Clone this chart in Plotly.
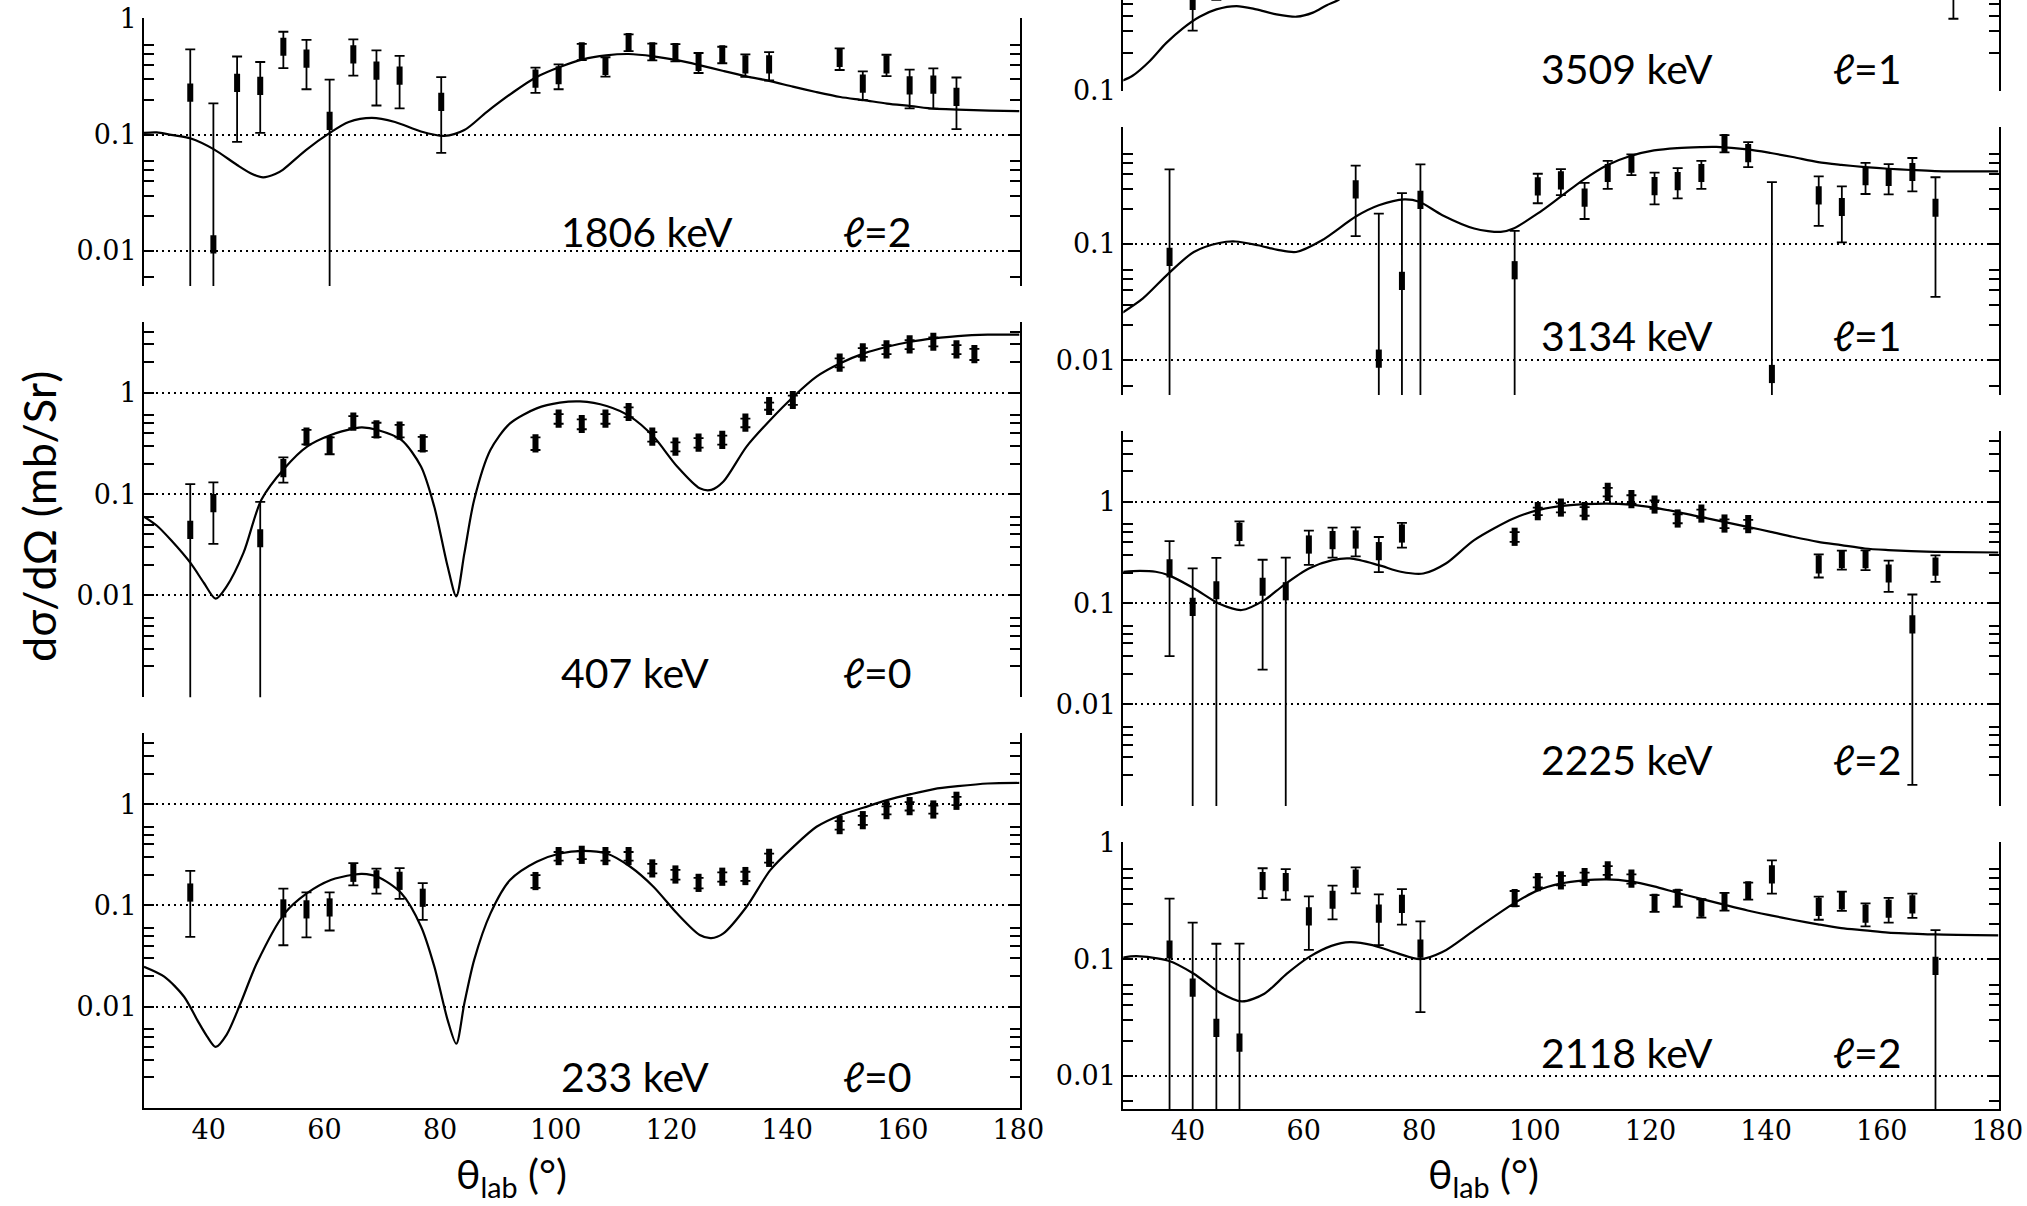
import plotly.graph_objects as go

# ---------------------------------------------------------------------------
# Angular distributions dσ/dΩ (mb/sr) vs θ_lab (deg): data with errors + DWBA curves
# ---------------------------------------------------------------------------

# 1806 keV, l=2
ang_1806 = [36.8, 40.8, 44.9, 48.9, 52.9, 56.9, 60.9, 65.0, 69.0, 73.0, 80.2, 96.5, 100.5, 104.5,
            108.6, 112.6, 116.7, 120.7, 124.7, 128.8, 132.8, 136.9, 149.1, 153.1, 157.2, 161.2,
            165.3, 169.3]
val_1806 = [0.231, 0.0114, 0.280, 0.264, 0.574, 0.453, 0.132, 0.494, 0.357, 0.324, 0.192, 0.305,
            0.326, 0.524, 0.392, 0.630, 0.524, 0.517, 0.424, 0.494, 0.405, 0.405, 0.459, 0.276,
            0.405, 0.267, 0.271, 0.212]
err_1806 = [0.314, 0.175, 0.193, 0.160, 0.199, 0.206, 0.167, 0.170, 0.178, 0.155, 0.122, 0.075,
            0.079, 0.084, 0.074, 0.104, 0.086, 0.088, 0.083, 0.080, 0.089, 0.111, 0.097, 0.076,
            0.085, 0.098, 0.103, 0.100]
fit_ang_1806 = [28.8, 31.0, 33.5, 36.9, 40.9, 44.9, 47.5, 49.4, 51.5, 52.8, 56.8, 60.8, 64.2, 68.2,
                72.2, 76.7, 80.7, 84.2, 88.1, 92.7, 96.7, 100.7, 104.7, 108.7, 112.6, 116.9, 121.0,
                125.0, 129.0, 133.0, 137.1, 141.0, 145.0, 149.2, 153.3, 157.3, 161.4, 165.4, 169.5,
                175.0, 180.2]
fit_val_1806 = [0.104, 0.105, 0.100, 0.093, 0.075, 0.055, 0.046, 0.043, 0.046, 0.050, 0.074, 0.103,
                0.129, 0.140, 0.129, 0.107, 0.098, 0.110, 0.158, 0.234, 0.315, 0.384, 0.447, 0.484,
                0.497, 0.475, 0.440, 0.397, 0.355, 0.319, 0.290, 0.260, 0.234, 0.212, 0.199, 0.186,
                0.177, 0.168, 0.165, 0.162, 0.160]

# 407 keV, l=0
ang_407 = [36.8, 40.8, 48.9, 52.9, 56.9, 60.9, 65.0, 69.0, 73.0, 77.0, 96.5, 100.5, 104.5, 108.6,
           112.6, 116.7, 120.7, 124.7, 128.8, 132.8, 136.9, 141.0, 149.1, 153.1, 157.2, 161.2,
           165.3, 169.3, 172.4]
val_407 = [0.0444, 0.0813, 0.0367, 0.180, 0.369, 0.305, 0.518, 0.435, 0.422, 0.317, 0.317, 0.554,
           0.491, 0.554, 0.645, 0.369, 0.294, 0.322, 0.342, 0.506, 0.739, 0.847, 1.98, 2.50, 2.67,
           2.99, 3.18, 2.67, 2.40]
err_407 = [0.081, 0.049, 0.047, 0.050, 0.060, 0.058, 0.070, 0.070, 0.060, 0.050, 0.045, 0.060,
           0.055, 0.060, 0.070, 0.040, 0.030, 0.035, 0.035, 0.050, 0.060, 0.090, 0.20, 0.25, 0.27,
           0.30, 0.32, 0.27, 0.30]
fit_ang_407 = [28.8, 31.0, 33.5, 36.9, 39.2, 41.2, 43.1, 46.0, 49.1, 53.1, 57.0, 61.1, 65.2, 66.5,
               69.2, 73.3, 76.7, 79.0, 81.3, 82.8, 84.2, 85.9, 88.7, 92.1, 96.7, 100.7, 104.2,
               108.8, 112.9, 116.9, 121.0, 124.9, 126.9, 129.0, 133.0, 137.1, 141.1, 145.1, 149.2,
               153.3, 157.3, 161.4, 165.4, 169.5, 174.7, 180.2]
fit_val_407 = [0.060, 0.049, 0.035, 0.0207, 0.0132, 0.0093, 0.0123, 0.0263, 0.088, 0.18, 0.294,
               0.383, 0.445, 0.455, 0.429, 0.342, 0.187, 0.075, 0.0194, 0.0098, 0.026, 0.088, 0.272,
               0.498, 0.70, 0.797, 0.82, 0.739, 0.58, 0.369, 0.187, 0.114, 0.110, 0.133, 0.294,
               0.538, 0.913, 1.44, 1.95, 2.44, 2.84, 3.18, 3.43, 3.62, 3.73, 3.73]

# 233 keV, l=0
ang_233 = [36.8, 52.9, 56.9, 60.9, 65.0, 69.0, 73.0, 77.0, 96.5, 100.5, 104.5, 108.6, 112.6, 116.7,
           120.7, 124.7, 128.8, 132.8, 136.9, 149.1, 153.1, 157.2, 161.2, 165.3, 169.3]
val_233 = [0.134, 0.0934, 0.0914, 0.0955, 0.210, 0.181, 0.175, 0.119, 0.174, 0.307, 0.316, 0.307,
           0.307, 0.232, 0.202, 0.167, 0.192, 0.195, 0.295, 0.621, 0.695, 0.873, 0.956, 0.886, 1.08]
err_233 = [0.085, 0.053, 0.043, 0.039, 0.052, 0.050, 0.059, 0.047, 0.025, 0.030, 0.030, 0.030,
           0.030, 0.025, 0.022, 0.020, 0.020, 0.020, 0.030, 0.060, 0.070, 0.080, 0.090, 0.080, 0.100]
fit_ang_233 = [28.8, 32.3, 35.7, 38.0, 39.7, 41.2, 43.1, 45.5, 48.3, 53.1, 57.0, 61.1, 65.2, 66.5,
               69.2, 73.3, 76.7, 79.0, 81.3, 82.8, 84.2, 85.9, 88.7, 92.1, 96.7, 100.7, 104.7,
               108.8, 112.9, 116.9, 121.0, 124.9, 126.9, 129.0, 133.0, 137.1, 141.1, 145.1, 149.2,
               153.3, 157.3, 161.4, 165.4, 169.5, 174.7, 180.2]
fit_val_233 = [0.0248, 0.0198, 0.0126, 0.0074, 0.0051, 0.0040, 0.0053, 0.0108, 0.0268, 0.083, 0.132,
               0.178, 0.202, 0.205, 0.192, 0.132, 0.062, 0.025, 0.0074, 0.0043, 0.0108, 0.029, 0.083,
               0.178, 0.27, 0.326, 0.346, 0.326, 0.241, 0.153, 0.083, 0.051, 0.0475, 0.053, 0.097,
               0.223, 0.379, 0.598, 0.779, 0.927, 1.095, 1.255, 1.41, 1.505, 1.60, 1.62]

# 3509 keV, l=1
ang_3509 = [40.8, 44.9, 172.4]
val_3509 = [0.531, 0.75, 0.70]
err_3509 = [0.226, 0.21, 0.32]
fit_ang_3509 = [28.7, 30.4, 33.3, 36.2, 39.1, 42.0, 44.9, 48.4, 51.8, 55.3, 58.8, 61.6, 64.0, 66.0,
                70.0, 75.0]
fit_val_3509 = [0.120, 0.131, 0.171, 0.241, 0.318, 0.395, 0.453, 0.482, 0.453, 0.413, 0.395, 0.426,
                0.49, 0.54, 0.75, 1.0]

# 3134 keV, l=1
ang_3134 = [36.8, 69.0, 73.0, 77.0, 80.2, 96.5, 100.5, 104.5, 108.6, 112.6, 116.7, 120.7, 124.7,
            128.8, 132.8, 136.9, 141.0, 149.1, 153.1, 157.2, 161.2, 165.3, 169.3]
val_3134 = [0.0773, 0.295, 0.0103, 0.0481, 0.240, 0.0594, 0.313, 0.352, 0.250, 0.408, 0.491, 0.315,
            0.348, 0.408, 0.738, 0.606, 0.0076, 0.262, 0.208, 0.384, 0.377, 0.416, 0.205]
err_3134 = [0.361, 0.178, 0.172, 0.226, 0.244, 0.070, 0.089, 0.089, 0.086, 0.110, 0.100, 0.096,
            0.101, 0.110, 0.125, 0.147, 0.333, 0.119, 0.105, 0.115, 0.110, 0.133, 0.170]
fit_ang_3134 = [28.7, 32.2, 36.6, 41.0, 45.4, 48.2, 52.1, 55.5, 58.7, 63.1, 69.1, 73.0, 77.4, 80.0,
                84.0, 89.5, 94.1, 96.3, 100.5, 104.4, 108.5, 112.4, 116.5, 120.6, 124.6, 128.6,
                131.4, 136.8, 140.8, 144.6, 149.0, 153.0, 157.1, 161.1, 165.1, 169.2, 180.2]
fit_val_3134 = [0.0257, 0.034, 0.0556, 0.0853, 0.102, 0.105, 0.0975, 0.089, 0.0853, 0.107, 0.173,
                0.215, 0.242, 0.231, 0.177, 0.136, 0.127, 0.136, 0.183, 0.254, 0.36, 0.474, 0.571,
                0.638, 0.669, 0.682, 0.684, 0.651, 0.606, 0.56, 0.507, 0.48, 0.459, 0.444, 0.433,
                0.424, 0.421]

# 2225 keV, l=2
ang_2225 = [36.8, 40.8, 44.9, 48.9, 52.9, 56.9, 60.9, 65.0, 69.0, 73.0, 77.0, 96.5, 100.5, 104.5,
            108.6, 112.6, 116.7, 120.7, 124.7, 128.8, 132.8, 136.9, 149.1, 153.1, 157.2, 161.2,
            165.3, 169.3]
val_2225 = [0.220, 0.092, 0.134, 0.506, 0.145, 0.131, 0.379, 0.419, 0.425, 0.326, 0.487, 0.452,
            0.809, 0.879, 0.809, 1.255, 1.062, 0.942, 0.685, 0.767, 0.611, 0.603, 0.241, 0.272,
            0.272, 0.196, 0.0616, 0.229]
err_2225 = [0.19, 0.128, 0.146, 0.135, 0.123, 0.151, 0.14, 0.138, 0.135, 0.124, 0.134, 0.05, 0.07,
            0.09, 0.08, 0.12, 0.10, 0.09, 0.07, 0.07, 0.06, 0.06, 0.062, 0.058, 0.06, 0.067, 0.060,
            0.067]
fit_ang_2225 = [28.7, 31.7, 34.4, 36.6, 41.0, 45.4, 49.3, 53.2, 56.5, 60.9, 65.0, 68.0, 73.0, 76.8,
                80.7, 84.6, 89.5, 96.3, 100.5, 104.4, 108.5, 112.4, 116.5, 120.6, 124.6, 128.6,
                132.7, 136.8, 140.8, 144.6, 149.0, 153.0, 157.1, 161.1, 165.1, 169.2, 180.2]
fit_val_2225 = [0.204, 0.208, 0.204, 0.189, 0.14, 0.0985, 0.0855, 0.107, 0.150, 0.220, 0.266, 0.276,
                0.237, 0.204, 0.196, 0.246, 0.419, 0.685, 0.828, 0.906, 0.948, 0.963, 0.941, 0.879,
                0.797, 0.711, 0.635, 0.567, 0.506, 0.452, 0.403, 0.374, 0.346, 0.334, 0.326, 0.321,
                0.316]

# 2118 keV, l=2
ang_2118 = [36.8, 40.8, 44.9, 48.9, 52.9, 56.9, 60.9, 65.0, 69.0, 73.0, 77.0, 80.2, 96.5, 100.5,
            104.5, 108.6, 112.6, 116.7, 120.7, 124.7, 128.8, 132.8, 136.9, 141.0, 149.1, 153.1,
            157.2, 161.2, 165.3, 169.3]
val_2118 = [0.121, 0.0569, 0.0257, 0.0192, 0.469, 0.459, 0.233, 0.324, 0.491, 0.246, 0.299, 0.123,
            0.335, 0.459, 0.475, 0.508, 0.579, 0.491, 0.305, 0.337, 0.277, 0.316, 0.390, 0.535,
            0.281, 0.320, 0.246, 0.271, 0.296, 0.0874]
err_2118 = [0.21, 0.149, 0.11, 0.117, 0.135, 0.135, 0.113, 0.104, 0.124, 0.114, 0.101, 0.088, 0.05,
            0.045, 0.045, 0.045, 0.05, 0.045, 0.05, 0.055, 0.05, 0.055, 0.065, 0.17, 0.063, 0.06,
            0.055, 0.065, 0.07, 0.09]
fit_ang_2118 = [28.7, 31.1, 36.6, 41.0, 45.4, 49.3, 53.2, 57.1, 60.9, 64.8, 68.0, 71.9, 76.3, 80.1,
                84.0, 89.5, 96.3, 100.5, 104.4, 108.5, 112.4, 116.5, 120.6, 124.6, 128.6, 132.7,
                136.8, 140.8, 144.6, 149.0, 153.0, 157.1, 161.1, 165.1, 169.2, 180.2]
fit_val_2118 = [0.103, 0.106, 0.097, 0.075, 0.052, 0.0433, 0.0505, 0.075, 0.104, 0.13, 0.14, 0.132,
                0.112, 0.1, 0.115, 0.177, 0.30, 0.39, 0.445, 0.475, 0.485, 0.466, 0.422, 0.372,
                0.331, 0.294, 0.262, 0.238, 0.218, 0.199, 0.185, 0.177, 0.169, 0.166, 0.163, 0.16]

# panel captions
energies = ["1806 keV", "407 keV", "233 keV", "3509 keV", "3134 keV", "2225 keV", "2118 keV"]
ell_values = ["2", "0", "0", "1", "1", "2", "2"]
x_ticks = [40, 60, 80, 100, 120, 140, 160, 180]
y_title = "dσ/dΩ (mb/Sr)"
x_title = "θ<sub>lab</sub> (°)"

# ---------------------------------------------------------------------------
# page geometry (pixels)
# ---------------------------------------------------------------------------
W, H = 2027, 1206
COLS = {"L": (144.0, 1019.5), "R": (1123.3, 1998.5)}
# caption anchor angles per column: (energy text, l text)
CAPTION_X = {"L": (100.5, 149.4), "R": (100.7, 151.3)}
X_RANGE = [28.8, 180.2]

# (column, top px, bottom px, log range, labelled decades, caption height in domain, bottom row)
layout_spec = [
    ("L", 18.3, 286.0, [-2.302, 0.004], [1, 0.1, 0.01], 0.205, False),
    ("L", 321.7, 697.3, [-3.004, 0.70], [1, 0.1, 0.01], 0.065, False),
    ("L", 733.3, 1108.3, [-3.004, 0.70], [1, 0.1, 0.01], 0.084, True),
    ("R", -0.5, 90.7, [-1.004, -0.268], [0.1], 0.247, False),
    ("R", 127.3, 395.0, [-2.30, 0.004], [0.1, 0.01], 0.224, False),
    ("R", 431.0, 806.0, [-3.004, 0.70], [1, 0.1, 0.01], 0.125, False),
    ("R", 842.3, 1109.3, [-2.29, 0.004], [1, 0.1, 0.01], 0.213, True),
]

series = [
    (ang_1806, val_1806, err_1806, fit_ang_1806, fit_val_1806),
    (ang_407, val_407, err_407, fit_ang_407, fit_val_407),
    (ang_233, val_233, err_233, fit_ang_233, fit_val_233),
    (ang_3509, val_3509, err_3509, fit_ang_3509, fit_val_3509),
    (ang_3134, val_3134, err_3134, fit_ang_3134, fit_val_3134),
    (ang_2225, val_2225, err_2225, fit_ang_2225, fit_val_2225),
    (ang_2118, val_2118, err_2118, fit_ang_2118, fit_val_2118),
]

SERIF = "DejaVu Serif"
SANS = "Lato"


def label_text(v):
    return "1" if v == 1 else ("0.1" if v == 0.1 else ("0.01" if v == 0.01 else str(v)))


def minor_vals(lo, hi):
    # inner ticks at 2..6 within each decade
    vals = []
    for e in range(-4, 2):
        for m in (2, 3, 4, 5, 6):
            v = m * 10.0 ** e
            if 10 ** lo <= v <= 10 ** hi:
                vals.append(v)
    return vals


fig = go.Figure()
layout = dict(
    width=W, height=H, margin=dict(l=0, r=0, t=0, b=0, pad=0), autosize=False,
    paper_bgcolor="white", plot_bgcolor="rgba(0,0,0,0)", showlegend=False,
)
annotations = []

for i, ((col, top, bot, yr, majors, cap_y, bottom_row), (ang, val, err, fa, fv)) in enumerate(
        zip(layout_spec, series), start=1):
    sfx = "" if i == 1 else str(i)
    xa, ya = "x" + sfx, "y" + sfx
    x0, x1 = COLS[col]
    cap_e, cap_l = CAPTION_X[col]

    fig.add_trace(go.Scatter(
        x=fa, y=fv, mode="lines", xaxis=xa, yaxis=ya, hoverinfo="skip",
        line=dict(color="black", width=2.2, shape="spline", smoothing=0.8),
    ))
    fig.add_trace(go.Scatter(
        x=ang, y=val, mode="markers", xaxis=xa, yaxis=ya,
        marker=dict(symbol="line-ns", size=13, color="black",
                    line=dict(width=6, color="black")),
        error_y=dict(type="data", array=err, symmetric=True, color="black",
                     thickness=1.8, width=5),
    ))

    layout["xaxis" + sfx] = dict(
        domain=[x0 / W, x1 / W], range=X_RANGE, anchor=ya, automargin=False,
        showgrid=False, zeroline=False, showline=bottom_row, linecolor="black", linewidth=2,
        ticks="", showticklabels=bottom_row, tickvals=x_ticks, ticklabelstandoff=-4,
        tickfont=dict(family=SERIF, size=27, color="black"),
    )
    layout["yaxis" + sfx] = dict(
        type="log", domain=[max(0.0, 1 - bot / H), min(1.0, 1 - top / H)], range=yr, anchor=xa,
        automargin=False,
        showline=True, mirror="ticks", linecolor="black", linewidth=2,
        ticks="inside", ticklen=10, tickwidth=2, tickcolor="black",
        tickvals=majors, ticktext=[label_text(v) for v in majors],
        tickfont=dict(family=SERIF, size=27, color="black"),
        showgrid=True, gridcolor="black", gridwidth=2, griddash="2px,4px", zeroline=False,
        minor=dict(tickvals=minor_vals(*yr), ticks="inside", ticklen=10, tickwidth=2,
                   tickcolor="black", showgrid=False),
    )

    annotations.append(dict(
        text=energies[i - 1], x=cap_e, y=cap_y, xref=xa, yref=ya + " domain",
        xanchor="left", yanchor="middle", showarrow=False,
        font=dict(family=SANS, size=41, color="black"),
    ))
    annotations.append(dict(
        text="<i>ℓ</i>=" + ell_values[i - 1], x=cap_l, y=cap_y, xref=xa, yref=ya + " domain",
        xanchor="left", yanchor="middle", showarrow=False,
        font=dict(family=SANS, size=41, color="black"),
    ))

# axis titles
annotations.append(dict(
    text=y_title, x=39 / W, y=1 - 517 / H, xref="paper", yref="paper", textangle=-90,
    xanchor="center", yanchor="middle", showarrow=False,
    font=dict(family=SANS, size=45, color="black"),
))
for cx in (511, 1483):
    annotations.append(dict(
        text=x_title, x=cx / W, y=1 - 1176 / H, xref="paper", yref="paper",
        xanchor="center", yanchor="middle", showarrow=False,
        font=dict(family=SANS, size=41, color="black"),
    ))

layout["annotations"] = annotations
fig.update_layout(**layout)
fig.write_html("out.html")
